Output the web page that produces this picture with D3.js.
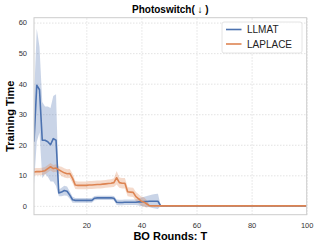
<!DOCTYPE html>
<html>
<head>
<meta charset="utf-8">
<script src="https://cdn.jsdelivr.net/npm/d3@7"></script>
<style>
  body { margin: 0; background: #fff; }
  svg text { font-family: "Liberation Sans", Arial, sans-serif; }
</style>
</head>
<body>
<div id="chart"></div>
<script>
const rounds = d3.range(1, 101);

const llmatMean = [
  21, 39.5, 38, 21.5, 21.5, 21, 20, 22, 21.5, 4.2,
  4.5, 5, 4.8, 3.5, 2, 1.8, 1.8, 1.8, 1.8, 1.8,
  1.8, 1.8, 2.5, 2.6, 2.6, 2.6, 2.6, 2.6, 2.6, 2.5,
  1.2, 1.1, 1.1, 1.2, 1.2, 1.2, 1.2, 1.2, 1.3, 1.3,
  1.4, 1.4, 1.5, 1.5, 1.5, 1.5, 0, 0, 0, 0,
  0, 0, 0, 0, 0, 0, 0, 0, 0, 0,
  0, 0, 0, 0, 0, 0, 0, 0, 0, 0,
  0, 0, 0, 0, 0, 0, 0, 0, 0, 0,
  0, 0, 0, 0, 0, 0, 0, 0, 0, 0,
  0, 0, 0, 0, 0, 0, 0, 0, 0, 0
];
const llmatStd = [
  14, 18.5, 14, 12.5, 11, 11.5, 12, 14, 15, 1.1,
  1.4, 1.6, 1.5, 1.2, 1, 0.8, 0.8, 0.8, 0.8, 0.8,
  0.8, 0.8, 0.7, 0.7, 0.7, 0.7, 0.7, 0.7, 0.7, 0.7,
  0.9, 0.9, 0.9, 0.9, 0.9, 0.9, 0.9, 0.9, 1.2, 1.4,
  1.6, 1.8, 2, 2.2, 2.4, 2.5, 0, 0, 0, 0,
  0, 0, 0, 0, 0, 0, 0, 0, 0, 0,
  0, 0, 0, 0, 0, 0, 0, 0, 0, 0,
  0, 0, 0, 0, 0, 0, 0, 0, 0, 0,
  0, 0, 0, 0, 0, 0, 0, 0, 0, 0,
  0, 0, 0, 0, 0, 0, 0, 0, 0, 0
];
const laplaceMean = [
  11.1, 11.2, 11.2, 11.3, 11.5, 12.2, 12.8, 12.2, 12.4, 11.8,
  11.3, 10.8, 10.5, 10.6, 9, 6.8, 6.7, 6.7, 6.7, 6.7,
  6.8, 6.8, 6.9, 7, 7, 7.1, 7.2, 7.3, 7.4, 7.6,
  9.2, 7.6, 7.4, 7.4, 4.6, 4.5, 4.4, 3, 2.3, 1.5,
  1.2, 0.6, 0, 0, 0, 0, 0, 0, 0, 0,
  0, 0, 0, 0, 0, 0, 0, 0, 0, 0,
  0, 0, 0, 0, 0, 0, 0, 0, 0, 0,
  0, 0, 0, 0, 0, 0, 0, 0, 0, 0,
  0, 0, 0, 0, 0, 0, 0, 0, 0, 0,
  0, 0, 0, 0, 0, 0, 0, 0, 0, 0
];
const laplaceStd = [
  1.2, 1.2, 1.2, 1.2, 1.2, 1.2, 1.2, 1.2, 1.2, 1.2,
  1.5, 1.5, 1.5, 1.5, 1.5, 1.3, 1.3, 1.3, 1.3, 1.3,
  1.3, 1.3, 1.3, 1.3, 1.3, 1.3, 1.3, 1.3, 1.3, 1.4,
  2.2, 1.7, 1.7, 1.7, 1.5, 1.5, 1.5, 1.5, 1.5, 1.5,
  1.5, 1.2, 0, 0, 0, 0, 0, 0, 0, 0,
  0, 0, 0, 0, 0, 0, 0, 0, 0, 0,
  0, 0, 0, 0, 0, 0, 0, 0, 0, 0,
  0, 0, 0, 0, 0, 0, 0, 0, 0, 0,
  0, 0, 0, 0, 0, 0, 0, 0, 0, 0,
  0, 0, 0, 0, 0, 0, 0, 0, 0, 0
];

const seriesNames = ['LLMAT', 'LAPLACE'];
const xTicks = [20, 40, 60, 80, 100];
const yTicks = [0, 10, 20, 30, 40, 50, 60];

const width  = 319;
const height = 248;
const plot   = {left: 34, right: 306.7, top: 17.7, bottom: 214.7};
const colors = ['#4C72B0', '#DD8452'];

const x = d3.scaleLinear().domain([1, 100]).range([plot.left, plot.right]);
const y = d3.scaleLinear().domain([-2.9, 61.6]).range([plot.bottom, plot.top]);

const svg = d3.select('#chart').append('svg')
  .attr('width', width).attr('height', height);

// grid
svg.append('g')
  .attr('transform', `translate(0,${plot.bottom})`)
  .call(d3.axisBottom(x).tickValues(xTicks).tickSize(-(plot.bottom - plot.top)).tickFormat(''))
  .call(g => g.select('.domain').remove())
  .selectAll('line').attr('stroke', '#dcdcdc').attr('stroke-width', 0.8).attr('stroke-dasharray', '1.5,1.5');
svg.append('g')
  .attr('transform', `translate(${plot.left},0)`)
  .call(d3.axisLeft(y).tickValues(yTicks).tickSize(-(plot.right - plot.left)).tickFormat(''))
  .call(g => g.select('.domain').remove())
  .selectAll('line').attr('stroke', '#dcdcdc').attr('stroke-width', 0.8).attr('stroke-dasharray', '1.5,1.5');

// bands + lines
const series = [
  {mean: llmatMean, std: llmatStd},
  {mean: laplaceMean, std: laplaceStd}
];
const clip = svg.append('clipPath').attr('id', 'clip')
  .append('rect').attr('x', plot.left).attr('y', plot.top)
  .attr('width', plot.right - plot.left).attr('height', plot.bottom - plot.top);

const marks = svg.append('g').attr('clip-path', 'url(#clip)');
series.forEach((s, k) => {
  const area = d3.area()
    .x((d, i) => x(rounds[i]))
    .y0((d, i) => y(s.mean[i] - s.std[i]))
    .y1((d, i) => y(s.mean[i] + s.std[i]));
  marks.append('path').datum(s.mean)
    .attr('d', area)
    .attr('fill', colors[k]).attr('fill-opacity', 0.3);
});
series.forEach((s, k) => {
  const line = d3.line().x((d, i) => x(rounds[i])).y(d => y(d));
  marks.append('path').datum(s.mean)
    .attr('d', line)
    .attr('fill', 'none').attr('stroke', colors[k]).attr('stroke-width', 1.6)
    .attr('stroke-linejoin', 'round');
});

// frame
svg.append('rect')
  .attr('x', plot.left).attr('y', plot.top)
  .attr('width', plot.right - plot.left).attr('height', plot.bottom - plot.top)
  .attr('fill', 'none').attr('stroke', '#cccccc').attr('stroke-width', 1);

// tick labels
svg.append('g')
  .attr('transform', `translate(0,${plot.bottom})`)
  .call(d3.axisBottom(x).tickValues(xTicks).tickSize(0).tickPadding(8))
  .call(g => g.select('.domain').remove())
  .selectAll('text').attr('font-size', 7.5).attr('fill', '#333')
  .style('font-family', '"Liberation Sans", Arial, sans-serif');
svg.append('g')
  .attr('transform', `translate(${plot.left},0)`)
  .call(d3.axisLeft(y).tickValues(yTicks).tickSize(0).tickPadding(7))
  .call(g => g.select('.domain').remove())
  .selectAll('text').attr('font-size', 7.5).attr('fill', '#333')
  .style('font-family', '"Liberation Sans", Arial, sans-serif');

// titles
svg.append('text')
  .attr('x', (plot.left + plot.right) / 2).attr('y', 12.5)
  .attr('text-anchor', 'middle').attr('font-size', 10).attr('font-weight', 'bold')
  .text('Photoswitch( \u2193 )');
svg.append('text')
  .attr('x', (plot.left + plot.right) / 2).attr('y', 240)
  .attr('text-anchor', 'middle').attr('font-size', 11).attr('font-weight', 'bold')
  .text('BO Rounds: T');
svg.append('text')
  .attr('transform', `translate(14,${(plot.top + plot.bottom) / 2}) rotate(-90)`)
  .attr('text-anchor', 'middle').attr('font-size', 11).attr('font-weight', 'bold')
  .text('Training Time');

// legend
const legend = svg.append('g').attr('transform', 'translate(222,22)');
legend.append('rect')
  .attr('width', 80).attr('height', 31).attr('rx', 2)
  .attr('fill', '#fff').attr('fill-opacity', 0.85)
  .attr('stroke', '#dddddd').attr('stroke-width', 0.8);
seriesNames.forEach((name, k) => {
  const row = legend.append('g').attr('transform', `translate(0,${7.5 + k * 14.5})`);
  row.append('line').attr('x1', 4).attr('x2', 19.5)
    .attr('stroke', colors[k]).attr('stroke-width', 1.6);
  row.append('text').attr('x', 25).attr('y', 3.6)
    .attr('font-size', 10).attr('fill', '#222').text(name);
});
</script>
</body>
</html>
